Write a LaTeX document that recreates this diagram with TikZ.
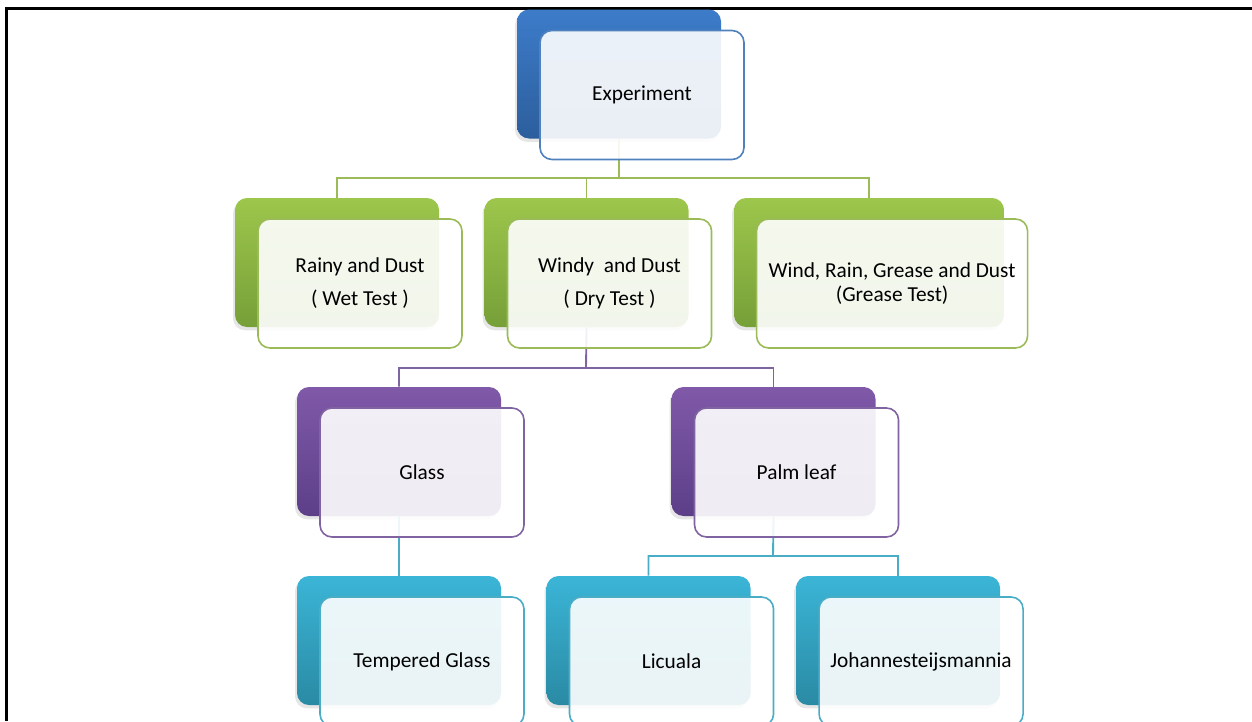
\documentclass[tikz,border=0pt]{standalone}
\usepackage{fontspec}
\setmainfont{Carlito}
\usetikzlibrary{positioning,shadows}

\definecolor{blueTop}{HTML}{3D7CCA}
\definecolor{blueBot}{HTML}{2C5E9C}
\definecolor{blueLine}{HTML}{4F81BD}
\definecolor{greenTop}{HTML}{9DC64C}
\definecolor{greenBot}{HTML}{76A038}
\definecolor{greenLine}{HTML}{9BBB59}
\definecolor{purpleTop}{HTML}{8059A9}
\definecolor{purpleBot}{HTML}{5C3F88}
\definecolor{purpleLine}{HTML}{8064A2}
\definecolor{cyanTop}{HTML}{3BB5D7}
\definecolor{cyanBot}{HTML}{2A8AA4}
\definecolor{cyanLine}{HTML}{4BACC6}

\begin{document}
\begin{tikzpicture}[x=0.75pt,y=-0.75pt,node distance=33.75pt,
    backbox/.style={
    % The shape:
    rectangle,rounded corners=9pt,
    minimum width=153pt,minimum height=96.75pt,
    % The rest
    draw=none,
    drop shadow={shadow xshift=-1.5pt,shadow yshift=-2.5pt,opacity=0.2}},
    frontbox/.style={
    % The shape:
    rectangle,rounded corners=9pt,
    minimum width=153pt,minimum height=96.75pt,
    xshift=17.25pt,yshift=-15.75pt,
    % The rest
    line width=1.2pt,fill=white,fill opacity=0.9,text opacity=1,
    align=center,font=\fontsize{16}{18}\selectfont},
    blueback/.style={backbox,top color=blueTop,bottom color=blueBot},
    greenback/.style={backbox,top color=greenTop,bottom color=greenBot},
    purpleback/.style={backbox,top color=purpleTop,bottom color=purpleBot},
    cyanback/.style={backbox,top color=cyanTop,bottom color=cyanBot},
    link/.style={line width=1.4pt}]
    \useasboundingbox (0,0) rectangle (1252,721);
    % frame
    \draw[line width=1.6pt] (6.5,721) -- (6.5,8.5) -- (1252,8.5);

    % back boxes
    \node (expB) [blueback] at (619,74) {};
    \node (rainB) [greenback] at (337,262.5) {};
    \node (windyB) [greenback,right=of rainB] {};
    \node (greaseB) [greenback,minimum width=202.5pt,right=of windyB] {};
    \node (glassB) [purpleback] at (399,451.5) {};
    \node (palmB) [purpleback,right=127.5pt of glassB] {};
    \node (tempB) [cyanback] at (399,640.5) {};
    \node (licB) [cyanback,right=of tempB] {};
    \node (johB) [cyanback,right=of licB] {};

    % connectors
    \coordinate (busA) at (619,178);
    \draw[link,greenLine] (expB.south) -- (busA) -| (rainB.north);
    \draw[link,greenLine] (busA) -| (windyB.north);
    \draw[link,greenLine] (busA) -| (greaseB.north);
    \coordinate (busB) at (586,368);
    \draw[link,purpleLine] (windyB.south) -- (busB) -| (glassB.north);
    \draw[link,purpleLine] (busB) -| (palmB.north);
    \draw[link,cyanLine] (glassB.south) -- (tempB.north);
    \coordinate (busC) at (773,556);
    \draw[link,cyanLine] (palmB.south) -- (busC) -| (licB.north);
    \draw[link,cyanLine] (busC) -| (johB.north);

    % front boxes
    \node (exp) [frontbox,draw=blueLine] at (expB.center) {Experiment};
    \node (rain) [frontbox,draw=greenLine] at (rainB.center) {Rainy and Dust\\[6.75pt]( Wet Test )};
    \node (windy) [frontbox,draw=greenLine] at (windyB.center) {Windy\ \ and Dust\\[6.75pt]( Dry Test )};
    \node (grease) [frontbox,draw=greenLine,minimum width=203.25pt] at (greaseB.center) {Wind, Rain, Grease and Dust\\(Grease Test)};
    \node (glass) [frontbox,draw=purpleLine] at (glassB.center) {Glass};
    \node (palm) [frontbox,draw=purpleLine] at (palmB.center) {Palm leaf};
    \node (temp) [frontbox,draw=cyanLine] at (tempB.center) {Tempered Glass};
    \node (lic) [frontbox,draw=cyanLine] at (licB.center) {Licuala};
    \node (joh) [frontbox,draw=cyanLine] at (johB.center) {Johannesteijsmannia};
\end{tikzpicture}
\end{document}
